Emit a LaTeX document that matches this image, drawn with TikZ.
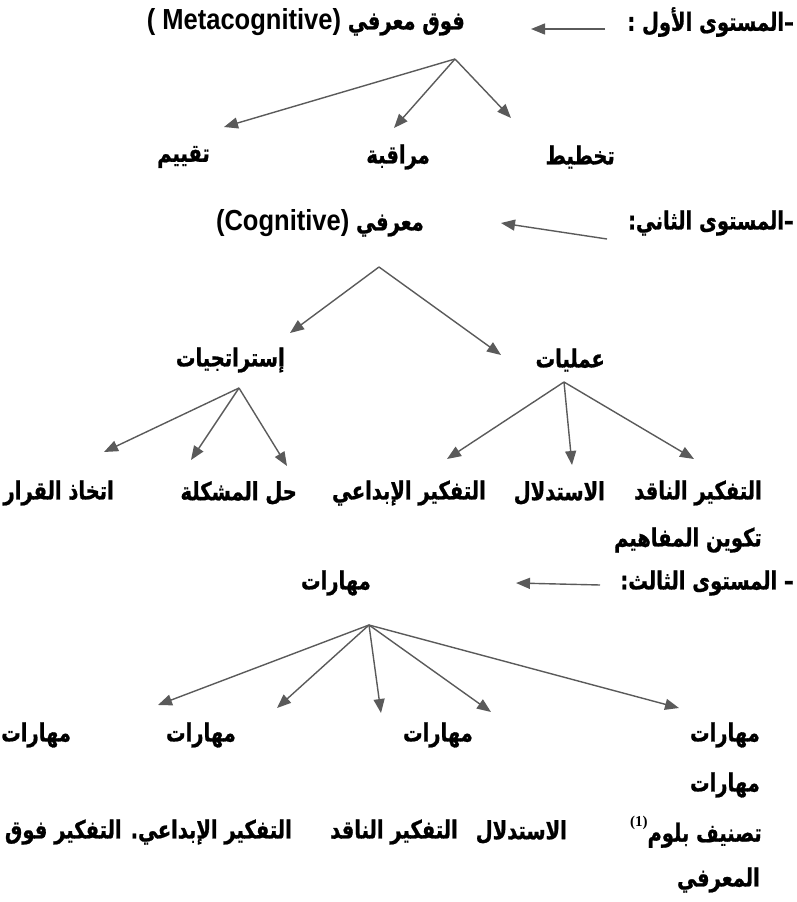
\documentclass[tikz,border=0pt]{standalone}
\usepackage{fontspec}
\setmainfont{Liberation Sans}
\newfontfamily\arfont[Script=Arabic, FakeStretch=0.78, BoldFeatures={FakeBold=0.9}]{DejaVu Sans}
\newfontfamily\latfont[FakeStretch=0.88]{Liberation Sans}
\newfontfamily\notefont{Liberation Serif}
\TeXXeTstate=1
\usetikzlibrary{arrows.meta}
\definecolor{arrgray}{HTML}{5A5A5A}
\newcommand{\artext}[1]{\beginR #1\endR}
\newcommand{\lattext}[1]{\beginL{\latfont\fontsize{29}{33}\selectfont #1}\endL}
\tikzstyle{ar} = [font=\arfont\bfseries\fontsize{25}{29}\selectfont, inner sep=0pt, anchor=east]
\tikzstyle{arr} = [-{Triangle[length=14pt, width=11pt]}, line width=1.4pt, draw=arrgray]

\begin{document}
\begin{tikzpicture}[x=1pt, y=-1pt]
  \useasboundingbox (0,0) rectangle (796,902);
  % ---------- level 1: metacognitive ----------
  \node[ar] (lvlA)  at (794,22) {\artext{–المستوى الأول :}};
  \node[ar] (meta)  at (465,22) {\artext{فوق معرفي \lattext{( Metacognitive)}}};
  \node[ar] (plan)  at (615,157) {\artext{تخطيط}};
  \node[ar] (watch) at (430,157) {\artext{مراقبة}};
  \node[ar] (eval)  at (210,157) {\artext{تقييم}};
  \coordinate (lvlAtail) at (605,29);
  \coordinate (lvlAhead) at (531,29);
  \coordinate (metaFan) at (455,59);
  \coordinate (planTip)  at (511,118);
  \coordinate (watchTip) at (394,128);
  \coordinate (evalTip)  at (224,127);
  \draw[arr] (lvlAtail) -- (lvlAhead);
  \draw[arr] (metaFan) -- (planTip);
  \draw[arr] (metaFan) -- (watchTip);
  \draw[arr] (metaFan) -- (evalTip);
  % ---------- level 2: cognitive ----------
  \node[ar] (lvlB)  at (794,223) {\artext{–المستوى الثاني:}};
  \node[ar] (cog)   at (424,223) {\artext{معرفي \lattext{(Cognitive)}}};
  \node[ar] (strat) at (285,360) {\artext{إستراتجيات}};
  \node[ar] (proc)  at (605,360) {\artext{عمليات}};
  \coordinate (lvlBtail) at (607,239);
  \coordinate (lvlBhead) at (501,223);
  \coordinate (cogFan)   at (379,267);
  \coordinate (stratTip) at (290,333);
  \coordinate (procTip)  at (501,355);
  \draw[arr] (lvlBtail) -- (lvlBhead);
  \draw[arr] (cogFan) -- (stratTip);
  \draw[arr] (cogFan) -- (procTip);
  % strategies and processes
  \node[ar] (crit)    at (762,493) {\artext{التفكير الناقد}};
  \node[ar] (reason)  at (605,493) {\artext{الاستدلال}};
  \node[ar] (creat)   at (486,493) {\artext{التفكير الإبداعي}};
  \node[ar] (solve)   at (297,493) {\artext{حل المشكلة}};
  \node[ar] (decide)  at (114,493) {\artext{اتخاذ القرار}};
  \node[ar] (concept) at (762,540) {\artext{تكوين المفاهيم}};
  \coordinate (stratFan)  at (239,388);
  \coordinate (decideTip) at (104,452);
  \coordinate (solveTipA) at (191,460);
  \coordinate (solveTipB) at (287,466);
  \coordinate (procFan)   at (564,382);
  \coordinate (creatTip)  at (447,459);
  \coordinate (reasonTip) at (572,465);
  \coordinate (critTip)   at (694,459);
  \draw[arr] (stratFan) -- (decideTip);
  \draw[arr] (stratFan) -- (solveTipA);
  \draw[arr] (stratFan) -- (solveTipB);
  \draw[arr] (procFan) -- (creatTip);
  \draw[arr] (procFan) -- (reasonTip);
  \draw[arr] (procFan) -- (critTip);
  % ---------- level 3: skills ----------
  \node[ar] (lvlC)   at (794,583) {\artext{– المستوى الثالث:}};
  \node[ar] (skills) at (371,583) {\artext{مهارات}};
  \node[ar] (skA)    at (760,735) {\artext{مهارات}};
  \node[ar] (skB)    at (473,735) {\artext{مهارات}};
  \node[ar] (skC)    at (236,735) {\artext{مهارات}};
  \node[ar, anchor=west] (skD) at (1,735) {\artext{مهارات}};
  \node[ar] (skE)    at (760,785) {\artext{مهارات}};
  \node[ar] (bloom)  at (762,832) {\artext{تصنيف بلوم\raisebox{1.1ex}{\notefont\bfseries\fontsize{15}{17}\selectfont(1)}}};
  \node[ar] (reasonB) at (567,832) {\artext{الاستدلال}};
  \node[ar] (critB)   at (458,832) {\artext{التفكير الناقد}};
  \node[ar] (creatB)  at (292,832) {\artext{التفكير الإبداعي. التفكير فوق}};
  \node[ar] (metaB)   at (760,880) {\artext{المعرفي}};
  \coordinate (lvlCtail) at (600,585);
  \coordinate (lvlChead) at (516,583);
  \coordinate (skFan) at (369,625);
  \coordinate (tipA) at (679,708);
  \coordinate (tipB) at (491,712);
  \coordinate (tipC) at (381,713);
  \coordinate (tipD) at (277,708);
  \coordinate (tipE) at (158,705);
  \draw[arr] (lvlCtail) -- (lvlChead);
  \foreach \t in {tipA,tipB,tipC,tipD,tipE}
    \draw[arr] (skFan) -- (\t);
\end{tikzpicture}
\end{document}
